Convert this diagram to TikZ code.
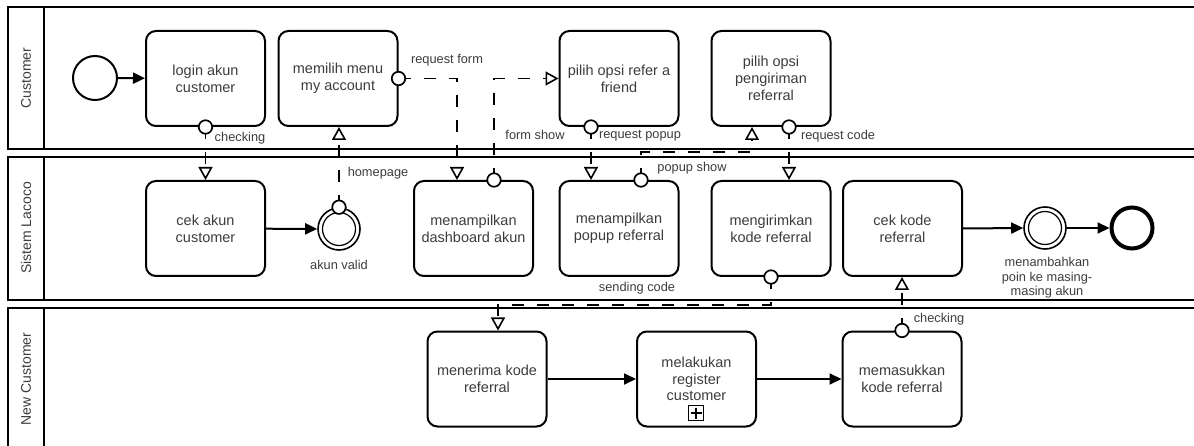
\documentclass[tikz,border=0pt]{standalone}
\usepackage{fontspec}
\setmainfont{Liberation Sans}
\usetikzlibrary{arrows.meta,calc}
\definecolor{txt}{RGB}{60,60,60}
\begin{document}
\begin{tikzpicture}[
  x=1pt, y=-1pt,
  pool/.style={draw, line width=2.2pt},
  task/.style={draw, line width=2pt, rounded corners=10pt, minimum width=119pt, minimum height=95pt, align=center, font=\fontsize{14.5}{16.7}\selectfont, text=txt},
  lbl/.style={font=\fontsize{12.8}{14.5}\selectfont, text=txt, inner sep=0pt, align=center},
  lanelbl/.style={rotate=90, font=\fontsize{14}{16}\selectfont, text=txt, inner sep=0pt},
  seq/.style={line width=2pt, -{Triangle[length=12pt,width=11pt]}},
  msg/.style={line width=1.8pt, dash pattern=on 12pt off 13pt, -{Triangle[length=13pt,width=14pt,fill=white,line width=1.6pt]}},
  src/.style={circle, draw, fill=white, line width=1.7pt, minimum size=13.5pt, inner sep=0pt},
  evt/.style={circle, draw, inner sep=0pt},
]
\useasboundingbox (0,0) rectangle (1194,446);
\clip (0,0) rectangle (1194,446);

% pools
\draw[pool] (1210,7) -- (8,7) -- (8,149) -- (1210,149);
\draw[pool] (44,7) -- (44,149);
\draw[pool] (1210,157) -- (8,157) -- (8,300) -- (1210,300);
\draw[pool] (44,157) -- (44,300);
\draw[pool] (1210,308) -- (8,308) -- (8,460);
\draw[pool] (44,308) -- (44,460);
\node[lanelbl] (l1) at (26,78) {Customer};
\node[lanelbl] (l2) at (26,228) {Sistem Lacoco};
\node[lanelbl] (l3) at (26,379) {New Customer};

% events
\node[evt, line width=2pt, minimum size=44pt] (start) at (95,78) {};
\node[evt, line width=1.6pt, minimum size=42pt] (valid) at (339,229) {};
\draw[line width=1.2pt] (valid.center) circle (16.5pt);
\node[evt, line width=1.6pt, minimum size=42pt] (poin) at (1045,228) {};
\draw[line width=1.2pt] (poin.center) circle (16.5pt);
\node[evt, line width=4pt, minimum size=41pt] (end) at (1132,228) {};

% tasks
\node[task] (login) at (205.5,78.5) {login akun\\customer};
\node[task] (memilih) at (338,78.5) {memilih menu\\my account};
\node[task] (refer) at (619,78.5) {pilih opsi refer a\\friend};
\node[task] (kirimopsi) at (771,78.5) {pilih opsi\\pengiriman\\referral};
\node[task] (cekakun) at (205.5,228.5) {cek akun\\customer};
\node[task] (dash) at (473.5,228.5) {menampilkan\\dashboard akun};
\node[task] (popup) at (619,228.5) {menampilkan\\popup referral};
\node[task] (kirim) at (771,228.5) {mengirimkan\\kode referral};
\node[task] (cekkode) at (902.5,228.5) {cek kode\\referral};
\node[task] (terima) at (487,379) {menerima kode\\referral};
\node[task] (register) at (696.5,379) {melakukan\\register\\customer};
\node[task] (masuk) at (902,379) {memasukkan\\kode referral};
\node[draw, line width=1.3pt, minimum size=15pt, inner sep=0pt] (plus) at (696,413) {};
\draw[line width=2pt] ([yshift=5.5pt]plus.center) -- ([yshift=-5.5pt]plus.center);
\draw[line width=2pt] ([xshift=-5.5pt]plus.center) -- ([xshift=5.5pt]plus.center);

% sequence flows
\draw[seq] (start) -- (login);
\draw[seq] (cekakun) -- (valid);
\draw[seq] (cekkode.east) -- (poin.west);
\draw[seq] (poin) -- (end);
\draw[seq] (terima) -- (register);
\draw[seq] (register) -- (masuk);

% message flow source points
\coordinate (p1) at (login.south);
\coordinate (p2) at (valid.north);
\coordinate (p3) at (memilih.east);
\coordinate (p4) at ([xshift=20.5pt]dash.north);
\coordinate (p5) at ([xshift=-28pt]refer.south);
\coordinate (p6) at ([xshift=22pt]popup.north);
\coordinate (p7) at ([xshift=18pt]kirimopsi.south);
\coordinate (p8) at (kirim.south);
\coordinate (p9) at (masuk.north);

% message flows
\draw[msg] (p1) -- (p1 |- cekakun.north);
\draw[msg] (p2) -- (p2 |- memilih.south);
\draw[msg] (p3) -| ([xshift=-16.5pt]dash.north);
\draw[msg] (p4) |- (refer.west);
\draw[msg] (p5) -- (p5 |- popup.north);
\draw[msg] (p6) -- ++(0,-28) -| ([xshift=-19pt]kirimopsi.south);
\draw[msg] (p7) -- (p7 |- kirim.north);
\draw[msg] (p8) -- ++(0,28) -| ([xshift=11pt]terima.north);
\draw[msg] (p9) -- (p9 |- cekkode.south);

% source circles
\node[src] (c1) at (p1) {};
\node[src] (c2) at (p2) {};
\node[src] (c3) at (p3) {};
\node[src] (c4) at (p4) {};
\node[src] (c5) at (p5) {};
\node[src] (c6) at (p6) {};
\node[src] (c7) at (p7) {};
\node[src] (c8) at (p8) {};
\node[src] (c9) at (p9) {};

% labels
\node[lbl] (t1) at (240,138) {checking};
\node[lbl] (t2) at (378,173) {homepage};
\node[lbl] (t3) at (447,60) {request form};
\node[lbl] (t4) at (535,135) {form show};
\node[lbl] (t5) at (640,136) {request popup};
\node[lbl] (t6) at (692,168) {popup show};
\node[lbl] (t7) at (838,136) {request code};
\node[lbl] (t8) at (637,288) {sending code};
\node[lbl] (t9) at (939,319) {checking};
\node[lbl] (t10) at (339,265) {akun valid};
\node[lbl] (t11) at (1047,278) {menambahkan\\poin ke masing-\\masing akun};
\end{tikzpicture}
\end{document}
